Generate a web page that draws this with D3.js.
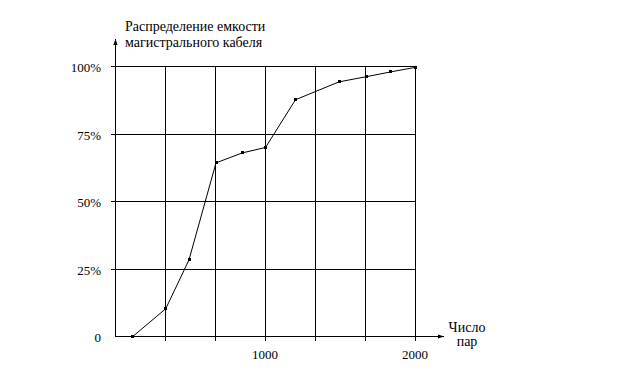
<!DOCTYPE html>
<html>
<head>
<meta charset="utf-8">
<script src="https://cdn.jsdelivr.net/npm/d3@7"></script>
<style>
  html, body { margin: 0; padding: 0; background: #fff; }
  svg { display: block; }
</style>
</head>
<body>
<svg id="chart" width="640" height="373"></svg>
<script>
// Data
const pairs = [115, 335, 490, 670, 845, 1000, 1200, 1490, 1670, 1835, 2000];
const share = [0, 10.3, 28.4, 64.3, 68, 70, 87.7, 94.3, 96.2, 98, 99.7];
const xGrid = [333.33, 666.67, 1000, 1333.33, 1666.67, 2000];
const xTickLabels = [1000, 2000];
const yTicks = [0, 25, 50, 75, 100];
const yTickLabels = ["0", "25%", "50%", "75%", "100%"];
const yTitle = ["Распределение емкости", "магистрального кабеля"];
const xTitle = ["Число", "пар"];

const svg = d3.select("#chart");
const x = d3.scaleLinear().domain([0, 2000]).range([115, 415]);
const y = d3.scaleLinear().domain([0, 100]).range([336, 66]);
const px = v => Math.round(v) + 0.5;

const g = svg.append("g").attr("shape-rendering", "crispEdges");

// horizontal grid lines (with short ticks to the left)
g.selectAll("line.hgrid").data(yTicks.filter(d => d > 0)).join("line")
  .attr("x1", px(x(0) - 5)).attr("x2", px(x(2000)))
  .attr("y1", d => px(y(d))).attr("y2", d => px(y(d)))
  .attr("stroke", "#000").attr("stroke-width", 1);

// vertical grid lines (with short ticks below)
g.selectAll("line.vgrid").data(xGrid).join("line")
  .attr("x1", d => px(x(d))).attr("x2", d => px(x(d)))
  .attr("y1", px(y(100))).attr("y2", px(y(0) + 4))
  .attr("stroke", "#000").attr("stroke-width", 1);

// axes with arrows
const defs = svg.append("defs");
defs.append("marker").attr("id", "arr").attr("viewBox", "0 0 10 10")
  .attr("refX", 10).attr("refY", 5).attr("markerWidth", 6).attr("markerHeight", 6)
  .attr("markerUnits", "userSpaceOnUse").attr("orient", "auto")
  .append("path").attr("d", "M0,1.5 L10,5 L0,8.5 Z").attr("fill", "#000");

g.append("line").attr("x1", px(x(0))).attr("x2", 444).attr("y1", px(y(0))).attr("y2", px(y(0)))
  .attr("stroke", "#000").attr("marker-end", "url(#arr)");
g.append("line").attr("x1", px(x(0))).attr("x2", px(x(0))).attr("y1", px(y(0))).attr("y2", 39)
  .attr("stroke", "#000").attr("marker-end", "url(#arr)");

// data line
const pts = pairs.map((p, i) => [p, share[i]]);
svg.append("path").datum(pts)
  .attr("fill", "none").attr("stroke", "#000").attr("stroke-width", 1)
  .attr("d", d3.line().x(d => x(d[0]) + 0.5).y(d => y(d[1]) + 0.5));
svg.selectAll("rect.pt").data(pts).join("rect")
  .attr("x", d => Math.round(x(d[0])) - 1).attr("y", d => Math.round(y(d[1])) - 1)
  .attr("width", 3).attr("height", 3).attr("fill", "#000");

function label(sel, size) {
  return sel.style("font-family", "Liberation Serif").style("font-size", size + "px").style("fill", "#000");
}

// y tick labels
label(svg.selectAll("text.yl").data(yTicks).join("text").attr("class", "yl"), 13)
  .attr("x", 101).attr("y", d => y(d) + 6)
  .attr("text-anchor", "end")
  .text((d, i) => yTickLabels[i]);

// x tick labels
label(svg.selectAll("text.xl").data(xTickLabels).join("text").attr("class", "xl"), 13)
  .attr("x", d => x(d)).attr("y", 359)
  .attr("text-anchor", "middle")
  .text(d => d);

// titles
label(svg.selectAll("text.yt").data(yTitle).join("text").attr("class", "yt"), 14)
  .attr("x", 125).attr("y", (d, i) => 31 + i * 16)
  .text(d => d);
label(svg.selectAll("text.xt").data(xTitle).join("text").attr("class", "xt"), 14)
  .attr("x", 467).attr("y", (d, i) => 332 + i * 14)
  .attr("text-anchor", "middle").text(d => d);
</script>
</body>
</html>
